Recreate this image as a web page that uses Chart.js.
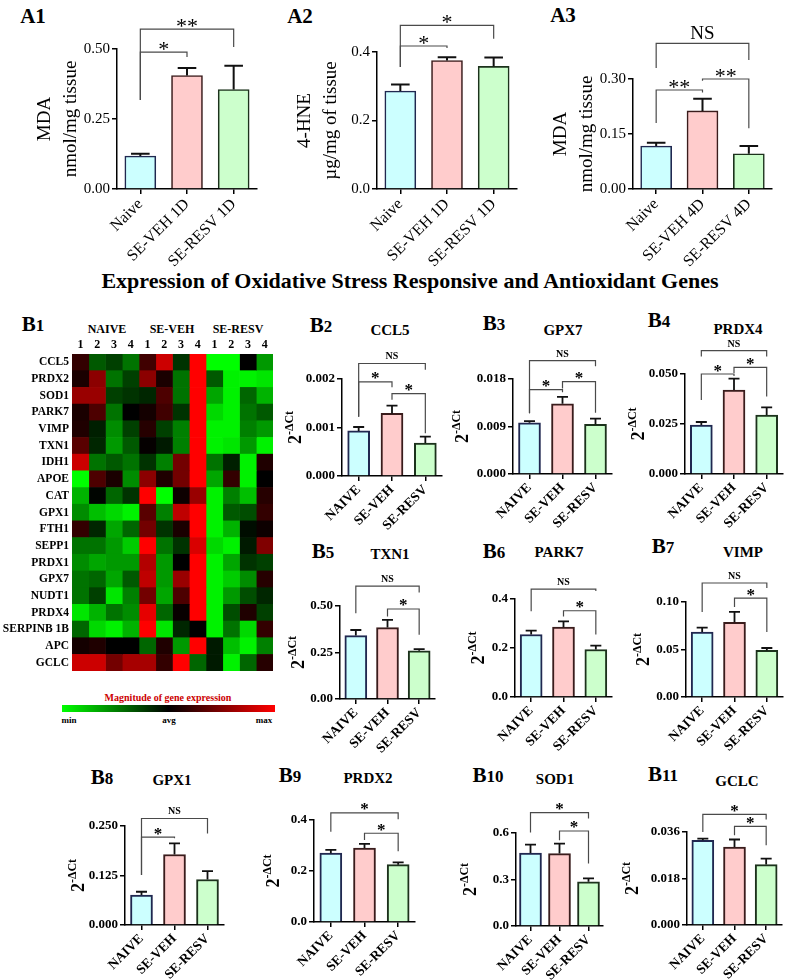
<!DOCTYPE html>
<html>
<head>
<meta charset="utf-8">
<script src="https://cdn.jsdelivr.net/npm/chart.js@4.4.1/dist/chart.umd.min.js"></script>
<style>
  body { margin: 0; background: #fff; }
  #page { position: relative; width: 787px; height: 980px; overflow: hidden; font-family: "Liberation Serif", "Times New Roman", serif; }
  canvas { position: absolute; }
  .t { position: absolute; transform: translate(-50%, -50%); white-space: nowrap; line-height: 1; font-weight: bold; }
</style>
</head>
<body>
<div id="page"></div>
<script>
// ---- data ----
const labels1D = ['Naive', 'SE-VEH 1D', 'SE-RESV 1D'];
const labels4D = ['Naive', 'SE-VEH 4D', 'SE-RESV 4D'];
const labelsB = ['NAIVE', 'SE-VEH', 'SE-RESV'];

const mda1D = [0.118, 0.405, 0.355],   mda1DSem = [0.008, 0.027, 0.085];
const hne1D = [0.286, 0.375, 0.358],   hne1DSem = [0.019, 0.010, 0.026];
const mda4D = [0.117, 0.213, 0.096],   mda4DSem = [0.009, 0.033, 0.021];

const ccl5 = [0.00093, 0.00129, 0.00068], ccl5Sem = [0.00008, 0.00016, 0.00013];
const gpx7 = [0.0097, 0.0133, 0.0094],    gpx7Sem = [0.0003, 0.0013, 0.0011];
const prdx4 = [0.0245, 0.042, 0.0295],    prdx4Sem = [0.0015, 0.0057, 0.0038];
const txn1 = [0.341, 0.384, 0.259],       txn1Sem = [0.030, 0.041, 0.009];
const park7 = [0.255, 0.285, 0.194],      park7Sem = [0.016, 0.024, 0.016];
const vimp = [0.0684, 0.0786, 0.049],     vimpSem = [0.0046, 0.011, 0.0026];
const gpx1 = [0.0755, 0.178, 0.115],      gpx1Sem = [0.0085, 0.028, 0.021];
const prdx2 = [0.270, 0.290, 0.225],      prdx2Sem = [0.013, 0.016, 0.009];
const sod1 = [0.471, 0.467, 0.285],       sod1Sem = [0.054, 0.065, 0.022];
const gclc = [0.0328, 0.0302, 0.0234],    gclcSem = [0.0006, 0.0029, 0.0023];

// brackets: [from, to, bracket height, left tip, right tip, label]
const sigA1 = [[0, 1, 0.489, 0.318, 0.471, '*'], [0, 2, 0.571, 0.318, 0.507, '**']];
const sigA2 = [[0, 1, 0.4175, 0.356, 0.412, '*'], [0, 2, 0.478, 0.356, 0.439, '*']];
const sigA3 = [[0, 1, 0.27, 0.18, 0.263, '**'], [1, 2, 0.30, 0.295, 0.166, '**'], [0, 2, 0.397, 0.33, 0.352, 'NS']];
const sigCcl5 = [[0, 1, 0.00194, 0.00122, 0.00183, '*'], [1, 2, 0.0017, 0.00157, 0.00088, '*'], [0, 2, 0.00232, 0.00122, 0.00219, 'NS']];
const sigGpx7 = [[0, 1, 0.016, 0.0115, 0.0155, '*'], [1, 2, 0.0175, 0.0162, 0.0116, '*'], [0, 2, 0.0215, 0.0115, 0.0204, 'NS']];
const sigPrdx4 = [[0, 1, 0.050, 0.037, 0.049, '*'], [1, 2, 0.0533, 0.0505, 0.0387, '*'], [0, 2, 0.0617, 0.0587, 0.0587, 'NS']];
const sigTxn1 = [[0, 2, 0.607, 0.461, 0.573, 'NS'], [1, 2, 0.484, 0.443, 0.345, '*']];
const sigPark7 = [[0, 2, 0.44, 0.35, 0.433, 'NS'], [1, 2, 0.352, 0.329, 0.255, '*']];
const sigVimp = [[0, 2, 0.12, 0.0895, 0.1147, 'NS'], [1, 2, 0.104, 0.0947, 0.0684, '*']];
const sigGpx1 = [[0, 2, 0.269, 0.126, 0.231, 'NS'], [0, 1, 0.222, 0.126, 0.219, '*']];
const sigPrdx2 = [[0, 2, 0.428, 0.354, 0.403, '*'], [1, 2, 0.348, 0.322, 0.277, '*']];
const sigSod1 = [[0, 2, 0.731, 0.603, 0.693, '*'], [1, 2, 0.613, 0.553, 0.403, '*']];
const sigGclc = [[0, 2, 0.0428, 0.036, 0.0408, '*'], [1, 2, 0.0382, 0.0347, 0.0309, '*']];

// heatmap
const genes = ['CCL5', 'PRDX2', 'SOD1', 'PARK7', 'VIMP', 'TXN1', 'IDH1', 'APOE', 'CAT', 'GPX1', 'FTH1',
  'SEPP1', 'PRDX1', 'GPX7', 'NUDT1', 'PRDX4', 'SERPINB 1B', 'APC', 'GCLC'];
const sampleLabels = ['1', '2', '3', '4', '1', '2', '3', '4', '1', '2', '3', '4'];
const heatValues = [
  [0.2, -0.35, -0.25, -0.45, 0.25, 0.8, -0.2, 1, -1, -1, 0, -0.6],
  [0.1, 0.55, -0.45, -0.25, 0.55, 0.1, -0.45, 1, -0.35, -0.95, -0.95, -0.9],
  [0.6, 0.6, -0.25, -0.2, -0.15, 0.3, -0.45, 1, -0.65, -0.95, -0.4, -0.7],
  [0.1, 0.3, -0.45, 0, 0.08, 0.25, -0.2, 1, -0.85, -0.95, -0.45, -0.35],
  [0.12, -0.12, -0.55, -0.25, 0.15, -0.25, -0.5, 1, -0.95, -0.95, -0.5, -0.6],
  [0.35, -0.15, -0.6, -0.35, 0.02, -0.1, -0.5, 1, -0.95, -0.9, -0.6, -0.95],
  [0.8, -0.45, -0.35, -0.45, -0.2, -0.5, 0.45, 1, -0.45, -0.12, -0.95, 0.12],
  [-1, 0.3, 0.1, -0.55, 0.55, 0.12, 0.45, 1, -0.65, 0.2, -0.95, 0],
  [-0.7, -0.02, -0.4, -0.2, 1, -1, 0.05, 0.6, -0.95, -0.5, -0.75, 0.15],
  [-0.55, -0.75, -0.85, -0.95, 0.35, -0.5, 0.75, 1, -0.95, -0.35, -0.3, 0.2],
  [0.2, -0.15, -0.65, -0.4, 0.45, -0.2, 0.1, 1, -0.95, -0.7, -0.05, 0.05],
  [-0.45, -0.45, -0.6, -0.8, 1, -0.45, -0.2, 0.85, -0.85, -0.95, -0.1, 0.5],
  [-0.55, -0.65, -0.6, -0.6, 0.7, -0.6, 0, 1, -0.95, -0.65, -0.2, -0.25],
  [-0.45, -0.4, -0.65, -0.35, 0.75, -0.6, 0.6, 1, -0.95, -0.8, -0.55, 0.15],
  [-0.45, -0.25, -0.9, -0.5, 0.45, -0.65, 0.3, 1, -0.95, -0.6, -0.3, -0.15],
  [-0.9, -0.7, -0.45, -0.55, 0.9, -0.4, 0.03, 1, -0.95, -0.3, 0.12, -0.25],
  [-0.4, -0.85, -0.95, -0.7, 1, -0.9, -0.15, 0, -0.95, -0.45, -0.85, 0.2],
  [0.08, 0.12, 0, 0, -0.4, 0.12, -0.6, 1, -0.1, -0.75, -0.95, -0.5],
  [0.8, 0.8, 0.45, 0.65, 0.65, 0.2, 1, -0.4, -0.1, -0.95, -0.4, 0.15]
];

// ---- panels ----
const panels = [
  { lab: labels1D, mean: mda1D, sem: mda1DSem, max: 0.5, step: 0.25, dec: 2, sig: sigA1, style: 'A', ax: 117, right: 257, top: 49, bottom: 189, title: ['MDA', 'nmol/mg tissue'] },
  { lab: labels1D, mean: hne1D, sem: hne1DSem, max: 0.4, step: 0.2, dec: 1, sig: sigA2, style: 'A', ax: 377, right: 517, top: 51.7, bottom: 189, title: ['4-HNE', 'µg/mg of tissue'] },
  { lab: labels4D, mean: mda4D, sem: mda4DSem, max: 0.3, step: 0.15, dec: 2, sig: sigA3, style: 'A', ax: 633, right: 772, top: 79, bottom: 189, title: ['MDA', 'nmol/mg tissue'] },
  { lab: labelsB, mean: ccl5, sem: ccl5Sem, max: 0.002, step: 0.001, dec: 3, sig: sigCcl5, style: 'B', ax: 342, right: 442, top: 379, bottom: 476, off: 47 },
  { lab: labelsB, mean: gpx7, sem: gpx7Sem, max: 0.018, step: 0.009, dec: 3, sig: sigGpx7, style: 'B', ax: 513, right: 612, top: 379.3, bottom: 475, off: 51 },
  { lab: labelsB, mean: prdx4, sem: prdx4Sem, max: 0.05, step: 0.025, dec: 3, sig: sigPrdx4, style: 'B', ax: 685, right: 783, top: 374, bottom: 474, off: 47 },
  { lab: labelsB, mean: txn1, sem: txn1Sem, max: 0.5, step: 0.25, dec: 2, sig: sigTxn1, style: 'B', ax: 340, right: 435, top: 606, bottom: 699, off: 42 },
  { lab: labelsB, mean: park7, sem: park7Sem, max: 0.4, step: 0.2, dec: 1, sig: sigPark7, style: 'B', ax: 515, right: 612, top: 599.3, bottom: 697.7, off: 37 },
  { lab: labelsB, mean: vimp, sem: vimpSem, max: 0.1, step: 0.05, dec: 2, sig: sigVimp, style: 'B', ax: 686, right: 783, top: 601.7, bottom: 696.7, off: 43 },
  { lab: labelsB, mean: gpx1, sem: gpx1Sem, max: 0.25, step: 0.125, dec: 3, sig: sigGpx1, style: 'B', ax: 125, right: 224, top: 825.7, bottom: 925, off: 47 },
  { lab: labelsB, mean: prdx2, sem: prdx2Sem, max: 0.4, step: 0.2, dec: 1, sig: sigPrdx2, style: 'B', ax: 314, right: 415, top: 820, bottom: 922.7, off: 41 },
  { lab: labelsB, mean: sod1, sem: sod1Sem, max: 0.6, step: 0.3, dec: 1, sig: sigSod1, style: 'B', ax: 516, right: 603, top: 832.7, bottom: 926, off: 46 },
  { lab: labelsB, mean: gclc, sem: gclcSem, max: 0.036, step: 0.018, dec: 3, sig: sigGclc, style: 'B', ax: 687, right: 782, top: 831.7, bottom: 925, off: 55 }
];

const texts = [
  ['A1', 33, 16, 21], ['A2', 300, 16, 21], ['A3', 563, 15, 21],
  ['Expression of Oxidative Stress Responsive and Antioxidant Genes', 410, 281, 22],
  ['B<span style="font-size:17px">1</span>', 33, 324, 21],
  ['B<span style="font-size:17px">2</span>', 321, 325, 21], ['CCL5', 390, 330, 15],
  ['B<span style="font-size:17px">3</span>', 494, 323, 21], ['GPX7', 563, 330, 15],
  ['B<span style="font-size:17px">4</span>', 659, 320, 21], ['PRDX4', 738, 329, 15],
  ['B<span style="font-size:17px">5</span>', 323, 551, 21], ['TXN1', 390, 554, 15],
  ['B<span style="font-size:17px">6</span>', 494, 551, 21], ['PARK7', 559, 552, 15],
  ['B<span style="font-size:17px">7</span>', 663, 546, 21], ['VIMP', 743, 552, 15],
  ['B<span style="font-size:17px">8</span>', 102, 777, 21], ['GPX1', 172, 780, 15],
  ['B<span style="font-size:17px">9</span>', 290, 775, 21], ['PRDX2', 368, 778, 15],
  ['B<span style="font-size:17px">10</span>', 488, 775, 21], ['SOD1', 555, 779, 15],
  ['B<span style="font-size:17px">11</span>', 663, 774, 21], ['GCLC', 737, 781, 15],
  ['NAIVE', 107, 329, 12], ['SE-VEH', 172, 329, 12], ['SE-RESV', 238, 329, 12]
];

const page = document.getElementById('page');
texts.forEach(([html, x, y, size]) => {
  const d = document.createElement('div');
  d.className = 't';
  d.innerHTML = html;
  d.style.left = x + 'px';
  d.style.top = y + 'px';
  d.style.fontSize = size + 'px';
  page.appendChild(d);
});

// colour key under the heatmap
const key = document.createElement('div');
key.innerHTML =
  '<div class="t" style="left:168px;top:698px;font-size:10px;color:#cc0000">Magnitude of gene expression</div>' +
  '<div style="position:absolute;left:62px;top:705px;width:213px;height:7px;background:linear-gradient(to right,#00ff00,#000000,#ff0000)"></div>' +
  '<div class="t" style="left:69px;top:720px;font-size:9px">min</div>' +
  '<div class="t" style="left:169px;top:720px;font-size:9px">avg</div>' +
  '<div class="t" style="left:264px;top:720px;font-size:9px">max</div>';
page.appendChild(key);

const serif = '"Liberation Serif", "Times New Roman", serif';
const fills = ['#ccffff', '#ffcccc', '#ccffcc'];
const edges = ['#202850', '#3a1c1c', '#1c321c'];

const decor = {
  id: 'decor',
  afterDatasetsDraw(chart, args, o) {
    const ctx = chart.ctx, xs = chart.scales.x, ys = chart.scales.y;
    const meta = chart.getDatasetMeta(0);
    const vals = chart.data.datasets[0].data;
    ctx.save();
    // error bars (mean + SEM)
    ctx.strokeStyle = '#111';
    ctx.lineWidth = o.ew;
    o.sem.forEach((e, i) => {
      const bar = meta.data[i];
      const yt = ys.getPixelForValue(vals[i] + e);
      const cap = bar.width * o.cap / 2;
      ctx.beginPath();
      ctx.moveTo(bar.x, bar.y);
      ctx.lineTo(bar.x, yt);
      ctx.moveTo(bar.x - cap, yt);
      ctx.lineTo(bar.x + cap, yt);
      ctx.stroke();
    });
    // significance brackets
    ctx.strokeStyle = '#4a4a4a';
    ctx.lineWidth = 1.2;
    ctx.fillStyle = '#000';
    ctx.textAlign = 'center';
    ctx.textBaseline = 'alphabetic';
    o.sig.forEach(([i, j, h, ti, tj, lab]) => {
      const xi = xs.getPixelForValue(i), xj = xs.getPixelForValue(j), yt = ys.getPixelForValue(h);
      ctx.beginPath();
      ctx.moveTo(xi, ys.getPixelForValue(ti));
      ctx.lineTo(xi, yt);
      ctx.lineTo(xj, yt);
      ctx.lineTo(xj, ys.getPixelForValue(tj));
      ctx.stroke();
      if (lab === 'NS') {
        ctx.font = o.nsFont;
        ctx.fillText(lab, (xi + xj) / 2, yt - 4);
      } else {
        ctx.font = o.starFont;
        ctx.fillText(lab, (xi + xj) / 2, yt - 7 + 0.5 * o.starSize);
      }
    });
    // y axis title
    const ca = chart.chartArea, cy = (ca.top + ca.bottom) / 2;
    if (o.title) {
      ctx.font = '19px ' + serif;
      ctx.textBaseline = 'middle';
      o.title.forEach((line, k) => {
        ctx.save();
        ctx.translate(ca.left - [72, 46][k], cy);
        ctx.rotate(-Math.PI / 2);
        ctx.fillText(line, 0, 0);
        ctx.restore();
      });
    } else {
      ctx.translate(ca.left - o.off, cy);
      ctx.rotate(-Math.PI / 2);
      ctx.textAlign = 'left';
      ctx.font = 'bold 18px ' + serif;
      const w2 = ctx.measureText('2').width;
      ctx.font = 'bold 12px ' + serif;
      const ws = ctx.measureText('-ΔCt').width;
      const x0 = -(w2 + ws) / 2;
      ctx.font = 'bold 18px ' + serif;
      ctx.fillText('2', x0, 6);
      ctx.font = 'bold 12px ' + serif;
      ctx.fillText('-ΔCt', x0 + w2, -2);
    }
    ctx.restore();
  }
};

const pT = 70, xH = 80, pR = 8;

panels.forEach(p => {
  const isA = p.style === 'A';
  const yW = isA ? 95 : 75;
  const c = document.createElement('canvas');
  c.width = (p.right - p.ax) + yW + pR;
  c.height = (p.bottom - p.top) + pT + xH;
  c.style.left = (p.ax - yW) + 'px';
  c.style.top = (p.top - pT) + 'px';
  page.appendChild(c);
  const tickFont = isA ? { family: serif, size: 15 } : { family: serif, size: 13, weight: 'bold' };
  const xFont = isA ? { family: serif, size: 16 } : { family: serif, size: 13.5, weight: 'bold' };
  new Chart(c, {
    type: 'bar',
    data: {
      labels: p.lab,
      datasets: [{
        data: p.mean,
        backgroundColor: fills,
        borderColor: edges,
        borderWidth: isA ? 1.6 : 2,
        borderSkipped: 'bottom',
        barThickness: isA ? 31 : 22
      }]
    },
    options: {
      responsive: false,
      animation: false,
      events: [],
      layout: { padding: { top: pT, right: pR, left: 0, bottom: 0 } },
      plugins: {
        legend: { display: false },
        tooltip: { enabled: false },
        decor: {
          sem: p.sem, sig: p.sig, title: p.title, off: p.off,
          ew: isA ? 2 : 1.8, cap: isA ? 0.6 : 0.5,
          starSize: isA ? 22 : 17,
          starFont: isA ? '22px ' + serif : 'bold 17px ' + serif,
          nsFont: isA ? '19px ' + serif : 'bold 10px ' + serif
        }
      },
      scales: {
        x: {
          grid: { offset: false, drawOnChartArea: false, drawTicks: true, tickLength: 5, color: '#000', lineWidth: 1.5 },
          border: { display: true, color: '#000', width: 1.5 },
          ticks: { font: xFont, color: '#000', minRotation: 45, maxRotation: 45, padding: 1, autoSkip: false },
          afterFit: s => { s.height = xH; }
        },
        y: {
          min: 0, max: p.max,
          grid: { drawOnChartArea: false, drawTicks: true, tickLength: 5, color: '#000', lineWidth: 1.5 },
          border: { display: true, color: '#000', width: 1.5 },
          ticks: { stepSize: p.step, font: tickFont, color: '#000', padding: 2, callback: v => Number(v).toFixed(p.dec) },
          afterFit: s => { s.width = yW; }
        }
      }
    },
    plugins: [decor]
  });
});

// heatmap as horizontal stacked bars: one dataset per sample column
function heatColor(v) {
  const k = Math.round(255 * Math.min(1, Math.abs(v)));
  return v >= 0 ? `rgb(${k},0,0)` : `rgb(0,${k},0)`;
}
const hc = document.createElement('canvas');
hc.width = 280;
hc.height = 345;
hc.style.left = '0px';
hc.style.top = '336px';
page.appendChild(hc);
new Chart(hc, {
  type: 'bar',
  data: {
    labels: genes,
    datasets: sampleLabels.map((s, col) => ({
      label: s,
      data: genes.map(() => 1),
      backgroundColor: heatValues.map(row => heatColor(row[col])),
      borderWidth: 0,
      barPercentage: 1,
      categoryPercentage: 1
    }))
  },
  options: {
    indexAxis: 'y',
    responsive: false,
    animation: false,
    events: [],
    layout: { padding: { top: 0, right: 7, left: 0, bottom: 4 } },
    plugins: { legend: { display: false }, tooltip: { enabled: false } },
    scales: {
      x: {
        stacked: true, position: 'top', min: 0, max: sampleLabels.length,
        grid: { display: false, drawTicks: false }, border: { display: false },
        afterBuildTicks: s => { s.ticks = sampleLabels.map((_, i) => ({ value: i + 0.5 })); },
        ticks: { callback: (v, i) => sampleLabels[i], font: { family: serif, size: 12, weight: 'bold' }, color: '#000', padding: 2, maxRotation: 0, autoSkip: false },
        afterFit: s => { s.height = 18; }
      },
      y: {
        stacked: true,
        grid: { display: false, drawTicks: false }, border: { display: false },
        ticks: { font: { family: serif, size: 11.5, weight: 'bold' }, color: '#000', padding: 3, autoSkip: false },
        afterFit: s => { s.width = 72; }
      }
    }
  }
});
</script>
</body>
</html>
